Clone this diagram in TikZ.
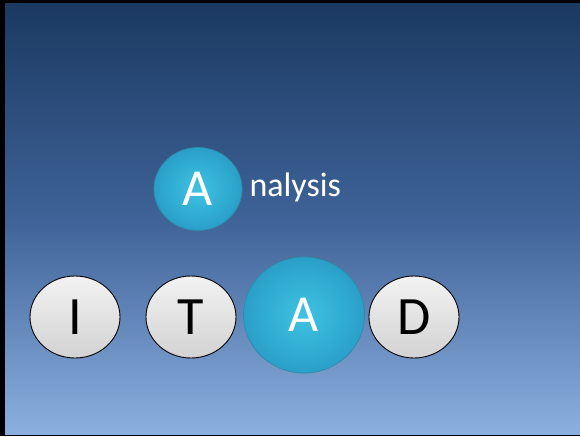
\documentclass[tikz,border=0pt]{standalone}
\usepackage{fontspec}
\setmainfont{Carlito}
\usepackage{tikz}
\usetikzlibrary{shapes.geometric}
\definecolor{BgTop}{HTML}{1B3961}
\definecolor{BgMid}{HTML}{3F6398}
\definecolor{BgBot}{HTML}{8BAFDE}
\definecolor{TealDark}{HTML}{2A9FC8}
\definecolor{TealLight}{HTML}{3EC3E3}
\definecolor{TealEdge}{HTML}{2E8BA8}

\begin{document}
\begin{tikzpicture}[x=1pt,y=-1pt]
  \tikzstyle{GreyDisc}=[ellipse,draw=black,line width=0.9pt,top color=gray!10,bottom color=gray!35,
    minimum width=90pt,minimum height=82pt,inner sep=0pt,font=\fontsize{54}{54}\selectfont]
  \tikzstyle{TealDisc}=[ellipse,draw=TealEdge,line width=0.7pt,inner color=TealLight,outer color=TealDark,
    inner sep=0pt,text=white,font=\fontsize{52}{52}\selectfont]
  % background and frame
  \fill[black] (0,0) rectangle (580,436);
  \shade[top color=BgTop,bottom color=BgBot,middle color=BgMid] (5,4) rectangle (580,434);
  \useasboundingbox (0,0) rectangle (580,436);
  % word
  \node[TealDisc,minimum width=88pt,minimum height=83pt] (a1) at (198,189) {A};
  \node[anchor=base west,text=white,font=\fontsize{34}{34}\selectfont] (rest) at (246,196) {nalysis};
  % row of letters
  \node[GreyDisc] (i) at (75,317) {I};
  \node[GreyDisc] (t) at (191,317) {T};
  \node[GreyDisc] (d) at (414,317) {D};
  \node[TealDisc,minimum width=121pt,minimum height=116pt] (a2) at (304,315) {A};
\end{tikzpicture}
\end{document}
